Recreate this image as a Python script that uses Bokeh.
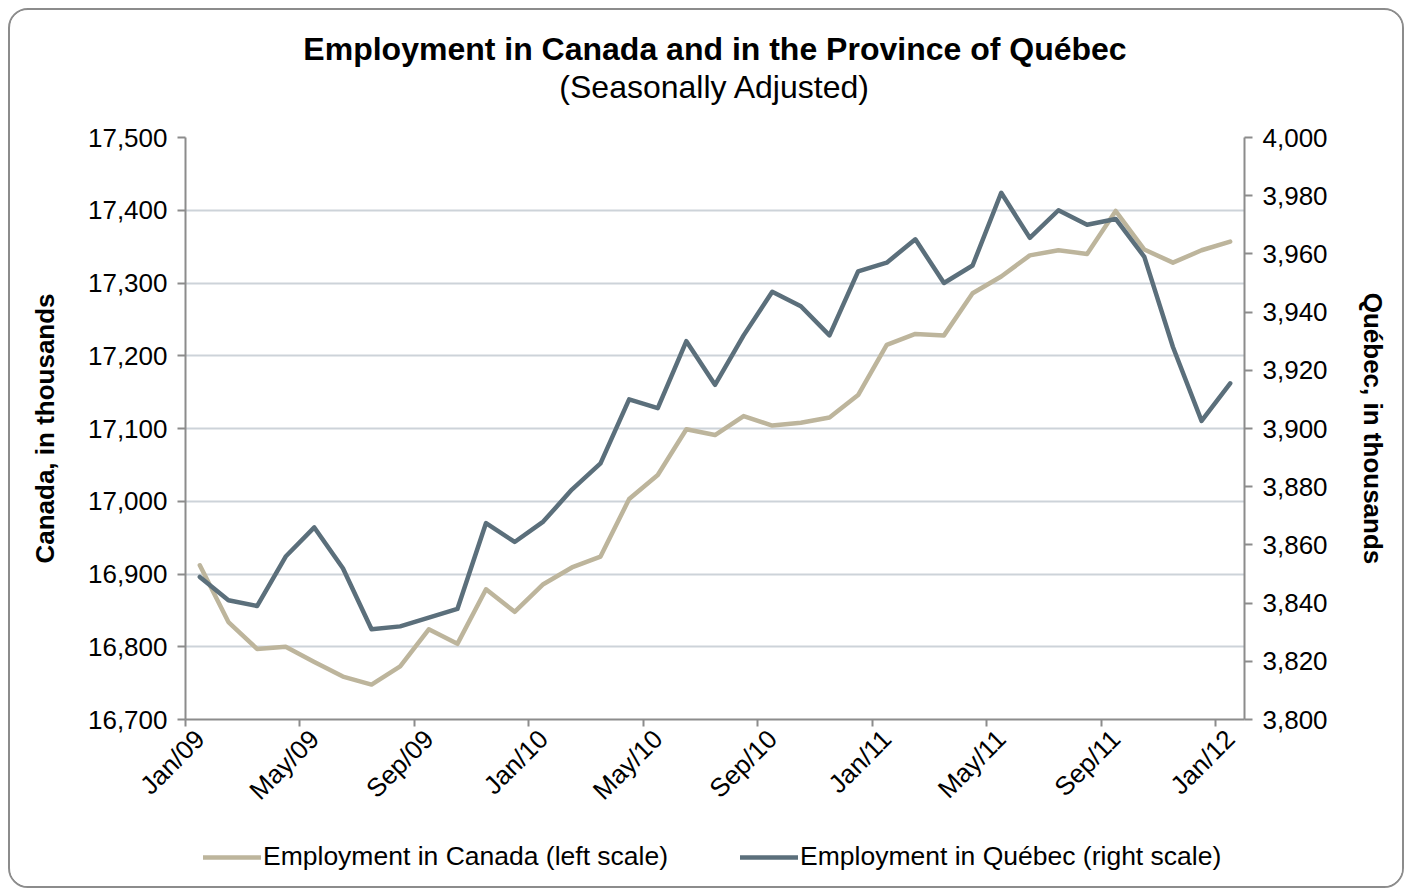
import math
import numpy as np
from bokeh.plotting import figure
from bokeh.layouts import column
from bokeh.models import (Range1d, LinearAxis, FixedTicker, NumeralTickFormatter,
                          Legend, LegendItem, Title)
from bokeh.embed import file_html
from bokeh.resources import INLINE

# ---- data (thousands, seasonally adjusted), monthly Jan/09 .. Jan/12 ----
canada = [16912, 16834, 16797, 16800, 16779, 16759, 16748, 16773, 16824, 16804,
          16879, 16848, 16886, 16909, 16924, 17003, 17036, 17099, 17091, 17117,
          17104, 17108, 17115, 17146, 17215, 17230, 17228, 17286, 17309, 17338,
          17345, 17340, 17399, 17346, 17328, 17345, 17357]
quebec = [3849, 3841, 3839, 3856, 3866, 3852, 3831, 3832, 3835, 3838,
          3867.5, 3861, 3868, 3879, 3888, 3910, 3907, 3930, 3915, 3932,
          3947, 3942, 3932, 3954, 3957, 3965, 3950, 3956, 3981, 3965.5,
          3975, 3970, 3972, 3959, 3928, 3902.6, 3915.5]
tick_labels = ["Jan/09", "May/09", "Sep/09", "Jan/10", "May/10", "Sep/10",
               "Jan/11", "May/11", "Sep/11", "Jan/12"]
left_ticks = [16700, 16800, 16900, 17000, 17100, 17200, 17300, 17400, 17500]
right_ticks = [3800, 3820, 3840, 3860, 3880, 3900, 3920, 3940, 3960, 3980, 4000]
series_names = ["Employment in Canada (left scale)", "Employment in Québec (right scale)"]

x = np.arange(len(canada))
label_pos = [4 * i for i in range(len(tick_labels))]
bound_pos = [4 * i - 0.5 for i in range(len(tick_labels))]

FONT = "Liberation Sans"
C_CAN = "#BDB59C"
C_QC = "#5B6F7B"
AX = "#8C8C8C"
TICK_FS = "26px"
W = 1392

p = figure(width=W, height=812, output_backend="svg", toolbar_location=None,
           x_range=Range1d(-0.5, len(canada) - 0.5),
           y_range=Range1d(left_ticks[0], left_ticks[-1]),
           min_border_left=175, min_border_right=158,
           min_border_top=127, min_border_bottom=103,
           x_axis_location=None, y_axis_location=None)
p.outline_line_color = None
p.background_fill_color = "white"
p.border_fill_color = "white"
p.extra_y_ranges = {"qc": Range1d(right_ticks[0], right_ticks[-1])}

# x axis: tick marks between categories, labels centred on the categories
xa = LinearAxis(ticker=FixedTicker(ticks=label_pos, minor_ticks=bound_pos),
                major_label_overrides={pos: lab for pos, lab in zip(label_pos, tick_labels)})
xa.major_tick_out = 0
xa.major_tick_in = 0
xa.minor_tick_out = 7
xa.minor_tick_in = 0
xa.minor_tick_line_color = AX
xa.minor_tick_line_width = 2
xa.axis_line_color = AX
xa.axis_line_width = 2
xa.major_label_orientation = math.pi / 4
xa.major_label_text_font = FONT
xa.major_label_text_font_size = TICK_FS
xa.major_label_text_color = "black"
xa.major_label_standoff = 8
p.add_layout(xa, "below")

ya = LinearAxis(ticker=FixedTicker(ticks=left_ticks), formatter=NumeralTickFormatter(format="0,0"),
                axis_label="Canada, in thousands")
yb = LinearAxis(y_range_name="qc", ticker=FixedTicker(ticks=right_ticks),
                formatter=NumeralTickFormatter(format="0,0"), axis_label="Québec, in thousands")
for ax in (ya, yb):
    ax.major_tick_out = 8
    ax.major_tick_in = 0
    ax.minor_tick_out = 0
    ax.minor_tick_in = 0
    ax.major_tick_line_color = AX
    ax.major_tick_line_width = 2
    ax.axis_line_color = AX
    ax.axis_line_width = 2
    ax.major_label_text_font = FONT
    ax.major_label_text_font_size = TICK_FS
    ax.major_label_text_color = "black"
    ax.major_label_standoff = 10
    ax.axis_label_text_font = FONT
    ax.axis_label_text_font_size = "26px"
    ax.axis_label_text_font_style = "bold"
    ax.axis_label_text_color = "black"
ya.axis_label_standoff = 25
yb.axis_label_standoff = 27
p.add_layout(ya, "left")
p.add_layout(yb, "right")

p.xgrid.visible = False
p.ygrid.ticker = FixedTicker(ticks=left_ticks)
p.ygrid.grid_line_color = "#CDD3D9"
p.ygrid.grid_line_width = 2

p.line(x, canada, line_color=C_CAN, line_width=4.5, line_join="round", line_cap="round")
p.line(x, quebec, y_range_name="qc", line_color=C_QC, line_width=4.5,
       line_join="round", line_cap="round")

# titles: a thin spacer sits between the frame and the subtitle
spacer = Title(text=" ", text_font=FONT, text_font_size="10px", standoff=20)
sub = Title(text="(Seasonally Adjusted)", align="center", text_font=FONT,
            text_font_size="32px", text_font_style="normal", text_color="black", standoff=0)
main = Title(text="Employment in Canada and in the Province of Québec", align="center",
             text_font=FONT, text_font_size="32px", text_font_style="bold", text_color="black",
             standoff=0)
p.add_layout(spacer, "above")
p.add_layout(sub, "above")
p.add_layout(main, "above")

# legend strip: same series, drawn outside its visible range, only the legend shows
pl = figure(width=W, height=64, output_backend="svg", toolbar_location=None,
            x_range=Range1d(-0.5, len(canada) - 0.5), y_range=Range1d(0, 1),
            min_border=0, x_axis_location=None, y_axis_location=None)
pl.outline_line_color = None
pl.grid.visible = False
pl.background_fill_color = "white"
pl.border_fill_color = "white"
r_can = pl.line(x, canada, line_color=C_CAN, line_width=4.5, line_cap="round")
r_qc = pl.line(x, quebec, line_color=C_QC, line_width=4.5, line_cap="round")

legend = Legend(items=[LegendItem(label=series_names[0], renderers=[r_can]),
                       LegendItem(label=series_names[1], renderers=[r_qc])],
                orientation="horizontal", location=(18, 14))
legend.label_text_font = FONT
legend.label_text_font_size = "26.5px"
legend.label_text_color = "black"
legend.glyph_width = 58
legend.glyph_height = 28
legend.label_standoff = 2
legend.spacing = 72
legend.border_line_color = None
legend.background_fill_alpha = 0
legend.padding = 0
legend.margin = 0
pl.add_layout(legend, "center")

layout = column(p, pl, spacing=0)
layout.styles = {"margin-left": "8px", "margin-top": "8px",
                 "border": "2px solid #8C8C8C", "border-radius": "20px",
                 "overflow": "hidden", "background": "white"}

open("out.html", "w").write(file_html(layout, INLINE))
